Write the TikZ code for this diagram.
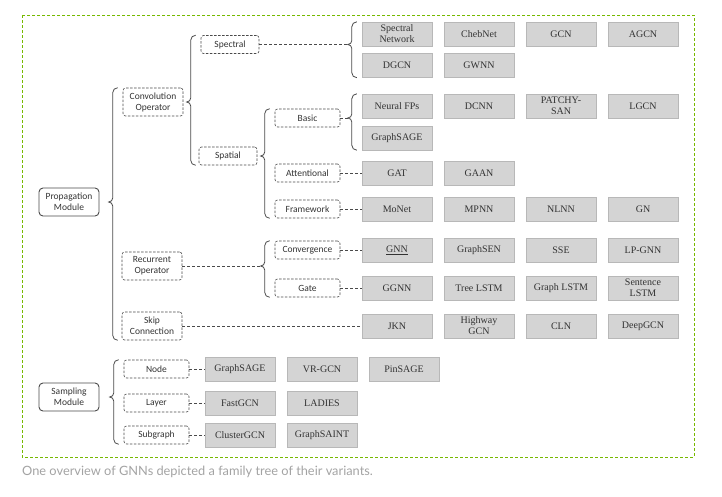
\documentclass[tikz,border=0pt]{standalone}
\usepackage{fontspec}
\setmainfont{Liberation Serif}
\newfontfamily\labelfont{Carlito}
\newfontfamily\captionfont{Lato}
\usetikzlibrary{calc}

\definecolor{nvgreen}{HTML}{76B900}
\definecolor{boxfill}{HTML}{D4D4D4}
\definecolor{boxline}{HTML}{B8B8B8}
\definecolor{inkgray}{HTML}{333333}
\definecolor{linegray}{HTML}{4A4A4A}
\definecolor{captiongray}{HTML}{A3A3A3}

% curly brace from the parent (#1) to its first (#2) and last (#3) child
\newcommand{\famBrace}[3]{%
	\draw[brace] let \p1=(#1.east), \p2=(#2.west), \p3=(#3.south west), \p4=(#2.north west) in
		(\x2-5pt,\y4) to[out=180,in=90] (\x2-10pt,\y4-5pt)
		-- (\x2-10pt,\y1+4pt) to[out=-90,in=0] (\x2-14pt,\y1) coordinate (#1-tip)
		to[out=0,in=90] (\x2-10pt,\y1-4pt)
		-- (\x2-10pt,\y3+5pt) to[out=-90,in=180] (\x2-5pt,\y3);}

\begin{document}
\begin{tikzpicture}[x=1pt,y=-1pt,
		model/.style={draw=boxline,fill=boxfill,minimum width=70pt,minimum height=24pt,
			inner sep=1pt,align=center,text=inkgray,font=\fontsize{10}{11}\selectfont},
		cat/.style={draw=linegray,line width=0.6pt,dash pattern=on 2.5pt off 1.5pt,rounded corners=2.5pt,
			minimum height=18pt,inner sep=1pt,align=center,text=inkgray,
			font=\labelfont\fontsize{9.5}{11}\selectfont},
		module/.style={draw=linegray,line width=0.9pt,rounded corners=4pt,minimum width=60pt,
			minimum height=28pt,inner sep=1pt,align=center,text=inkgray,
			font=\labelfont\fontsize{9.5}{11}\selectfont},
		link/.style={draw=linegray,line width=0.6pt,dash pattern=on 3pt off 2pt},
		brace/.style={draw=linegray,line width=0.8pt}]
	\useasboundingbox (0,0) rectangle (722,496);
	% frame and caption
	\draw[nvgreen,line width=0.8pt,dash pattern=on 3pt off 2pt] (22,15) rectangle (694,457);
	\node[anchor=west,inner sep=0,text=captiongray,font=\captionfont\fontsize{12.8}{14}\selectfont]
		(caption) at (22,472) {One overview of GNNs depicted a family tree of their variants.};

	% modules and categories
	\node[module] (propagation) at (69,202) {Propagation\\Module};
	\node[module] (sampling) at (69,397) {Sampling\\Module};
	\node[cat,minimum width=60pt,minimum height=28pt] (convop) at (153,102) {Convolution\\Operator};
	\node[cat,minimum width=60pt,minimum height=28pt] (recurrent) at (152,266) {Recurrent\\Operator};
	\node[cat,minimum width=60pt,minimum height=28pt] (skip) at (152,326) {Skip\\Connection};
	\node[cat,minimum width=58pt] (spectral) at (230,44.5) {Spectral};
	\node[cat,minimum width=58pt] (spatial) at (228,156) {Spatial};
	\node[cat,minimum width=65pt] (basic) at (307.5,118) {Basic};
	\node[cat,minimum width=65pt] (attentional) at (307.5,173) {Attentional};
	\node[cat,minimum width=65pt] (framework) at (307.5,209) {Framework};
	\node[cat,minimum width=65pt] (convergence) at (307.5,250) {Convergence};
	\node[cat,minimum width=65pt] (gate) at (307.5,288) {Gate};
	\node[cat,minimum width=65pt] (nodecat) at (156.5,369) {Node};
	\node[cat,minimum width=65pt] (layer) at (156.5,403) {Layer};
	\node[cat,minimum width=65pt] (subgraph) at (156.5,435) {Subgraph};

	% the variants, one row at a time
	\foreach \lbl [count=\i] in {{Spectral\\Network},ChebNet,GCN,AGCN}
		\node[model] (specA\i) at ({315+82*\i},34) {\lbl};
	\foreach \lbl [count=\i] in {DGCN,GWNN}
		\node[model] (specB\i) at ({315+82*\i},65.5) {\lbl};
	\foreach \lbl [count=\i] in {Neural FPs,DCNN,{PATCHY-\\SAN},LGCN}
		\node[model] (basicA\i) at ({315+82*\i},106) {\lbl};
	\foreach \lbl [count=\i] in {GraphSAGE}
		\node[model] (basicB\i) at ({315+82*\i},138) {\lbl};
	\foreach \lbl [count=\i] in {GAT,GAAN}
		\node[model] (attn\i) at ({315+82*\i},173.5) {\lbl};
	\foreach \lbl [count=\i] in {MoNet,MPNN,NLNN,GN}
		\node[model] (frame\i) at ({315+82*\i},209.5) {\lbl};
	\foreach \lbl [count=\i] in {\underline{GNN},GraphSEN,SSE,LP-GNN}
		\node[model] (conv\i) at ({315+82*\i},250) {\lbl};
	\foreach \lbl [count=\i] in {GGNN,Tree LSTM,Graph LSTM,{Sentence\\LSTM}}
		\node[model] (gate\i) at ({315+82*\i},288) {\lbl};
	\foreach \lbl [count=\i] in {JKN,{Highway\\GCN},CLN,DeepGCN}
		\node[model] (skip\i) at ({315+82*\i},326) {\lbl};
	\foreach \lbl [count=\i] in {GraphSAGE,VR-GCN,PinSAGE}
		\node[model] (nodes\i) at ({158+82*\i},369) {\lbl};
	\foreach \lbl [count=\i] in {FastGCN,LADIES}
		\node[model] (layer\i) at ({158+82*\i},403) {\lbl};
	\foreach \lbl [count=\i] in {ClusterGCN,GraphSAINT}
		\node[model] (subg\i) at ({158+82*\i},435) {\lbl};

	% braces
	\famBrace{propagation}{convop}{skip}
	\famBrace{convop}{spectral}{spatial}
	\famBrace{spatial}{basic}{framework}
	\famBrace{spectral}{specA1}{specB1}
	\famBrace{basic}{basicA1}{basicB1}
	\famBrace{recurrent}{convergence}{gate}
	\famBrace{sampling}{nodecat}{subgraph}

	% dashed links
	\draw[link] (spectral) -- (spectral-tip);
	\draw[link] (basic) -- (basic-tip);
	\draw[link] (recurrent) -- (recurrent-tip);
	\draw[link] (attentional.east) -- (attentional.east -| attn1.west);
	\draw[link] (framework.east) -- (framework.east -| frame1.west);
	\draw[link] (convergence.east) -- (convergence.east -| conv1.west);
	\draw[link] (gate.east) -- (gate.east -| gate1.west);
	\draw[link] (skip.east) -- (skip.east -| skip1.west);
	\draw[link] (nodecat.east) -- (nodecat.east -| nodes1.west);
	\draw[link] (layer.east) -- (layer.east -| layer1.west);
	\draw[link] (subgraph.east) -- (subgraph.east -| subg1.west);
\end{tikzpicture}
\end{document}
